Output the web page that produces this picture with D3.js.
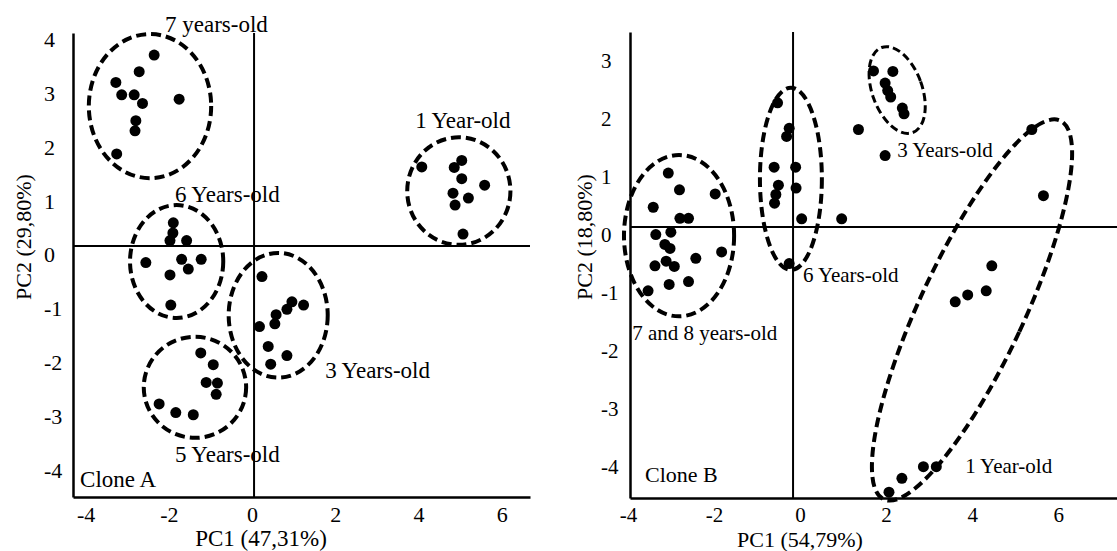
<!DOCTYPE html>
<html>
<head>
<meta charset="utf-8">
<script src="https://cdn.jsdelivr.net/npm/d3@7"></script>
<style>
  body { margin: 0; background: #fff; }
  svg { font-family: "Liberation Serif", "DejaVu Serif", serif; }
</style>
</head>
<body>
<svg id="chart" width="1117" height="551"></svg>
<script>
// tick labels
var xTicks = [-4, -2, 0, 2, 4, 6]
var yTicksA = [-4, -3, -2, -1, 0, 1, 2, 3, 4]
var yTicksB = [-4, -3, -2, -1, 0, 1, 2, 3]

// Clone A scores, [PC1, PC2]
var a7Years = [[-2.40,3.55],[-2.76,3.24],[-3.32,3.04],[-3.18,2.81],[-2.88,2.81],
               [-2.68,2.65],[-1.80,2.73],[-2.84,2.33],[-2.86,2.14],[-3.30,1.71]]
var a6Years = [[-1.94,0.43],[-1.95,0.24],[-2.02,0.10],[-1.62,0.10],[-2.60,-0.31],
               [-1.74,-0.25],[-1.27,-0.25],[-1.58,-0.43],[-2.02,-0.54],[-2.00,-1.10]]
var a5Years = [[-1.28,-1.99],[-0.98,-2.21],[-1.15,-2.54],[-0.88,-2.55],[-0.91,-2.76],
               [-2.28,-2.94],[-1.88,-3.10],[-1.46,-3.14]]
var a3Years = [[0.19,-0.57],[0.91,-1.04],[1.19,-1.10],[0.79,-1.18],[0.53,-1.28],
               [0.13,-1.50],[0.50,-1.45],[0.34,-1.87],[0.79,-2.04],[0.40,-2.20]]
var a1Year = [[4.03,1.47],[4.99,1.59],[4.81,1.46],[4.99,1.25],[5.54,1.13],
              [4.78,0.98],[5.15,0.89],[4.83,0.76],[5.02,0.22]]

// Clone B scores, [PC1, PC2]
var b78Years = [[-2.90,0.93],[-2.64,0.64],[-1.81,0.57],[-3.25,0.34],[-2.63,0.15],
                [-2.43,0.15],[-3.19,-0.13],[-2.84,-0.09],[-1.66,-0.43],[-2.98,-0.30],
                [-2.86,-0.37],[-2.26,-0.54],[-3.21,-0.67],[-2.95,-0.59],[-2.76,-0.68],
                [-3.37,-1.10],[-2.88,-0.99],[-2.43,-0.94]]
var b6Years = [[-0.36,2.14],[-0.09,1.70],[-0.15,1.56],[-0.44,1.03],[0.06,1.03],
               [-0.34,0.72],[-0.40,0.56],[-0.43,0.41],[0.07,0.67],[0.20,0.14],
               [-0.09,-0.63]]
var b3Years = [[1.87,2.69],[2.32,2.68],[2.14,2.48],[2.20,2.35],[2.27,2.24],
               [2.54,2.05],[2.58,1.95],[1.13,0.14],[1.52,1.68],[2.14,1.23]]
var b1Year = [[5.55,1.68],[5.82,0.54],[4.62,-0.67],[4.49,-1.10],[4.06,-1.17],
              [3.77,-1.29],[3.33,-4.13],[3.03,-4.13],[2.53,-4.33],[2.23,-4.57]]

var svg = d3.select("#chart")

var panels = [
  {
    left: 73, right: 530, top: 33, bottom: 497,
    xDomain: [-4.35, 6.63], yDomain: [-4.67, 3.96],
    yTicks: yTicksA, tickFont: 22, textFont: 23, titleFont: 23, cloneFont: 23,
    xLabelShift: -2, yLabelX: 44, yLabelShift: 9,
    xTitle: "PC1 (47,31%)", xTitlePos: [261, 546],
    yTitle: "PC2 (29,80%)", yTitlePos: [31, 237],
    clone: "Clone A", clonePos: [-4.18, -4.48],
    groups: [
      {pts: a7Years, label: "7 years-old", at: [-2.14, 3.98], ell: [-2.50, 2.60, 1.47, 1.34, 0]},
      {pts: a6Years, label: "6 Years-old", at: [-1.90, 0.82], ell: [-1.86, -0.29, 1.12, 1.05, 0]},
      {pts: a5Years, label: "5 Years-old", at: [-1.90, -4.01], ell: [-1.42, -2.63, 1.23, 0.94, 0]},
      {pts: a3Years, label: "3 Years-old", at: [1.71, -2.45], ell: [0.58, -1.29, 1.19, 1.16, 0]},
      {pts: a1Year, label: "1 Year-old", at: [3.87, 2.19], ell: [4.92, 1.02, 1.24, 1.00, 0]}
    ]
  },
  {
    left: 630, right: 1117, top: 32, bottom: 498,
    xDomain: [-3.79, 7.53], yDomain: [-4.67, 3.36],
    yTicks: yTicksB, tickFont: 21, textFont: 21, titleFont: 22, cloneFont: 22,
    xLabelShift: 7, yLabelX: 601, yLabelShift: 8,
    xTitle: "PC1 (54,79%)", xTitlePos: [800, 547],
    yTitle: "PC2 (18,80%)", yTitlePos: [592, 237],
    clone: "Clone B", clonePos: [-3.44, -4.40],
    groups: [
      {pts: b78Years, label: "7 and 8 years-old", at: [-3.74, -1.95], ell: [-2.65, -0.15, 1.28, 1.39, 0]},
      {pts: b6Years, label: "6 Years-old", at: [0.23, -0.95], ell: [-0.05, 0.83, 0.72, 1.57, 0]},
      {pts: b3Years, label: "3 Years-old", at: [2.42, 1.21], ell: [2.42, 2.36, 0.58, 0.78, -20], thin: true},
      {pts: b1Year, label: "1 Year-old", at: [4.00, -4.24], ell: [4.16, -1.43, 1.21, 3.60, 25]}
    ]
  }
]

function drawPanel(p) {
  var x = d3.scaleLinear().domain(p.xDomain).range([p.left, p.right])
  var y = d3.scaleLinear().domain(p.yDomain).range([p.bottom, p.top])
  var g = svg.append("g")

  // lines through the origin
  g.append("line")
    .attr("x1", x(0)).attr("x2", x(0))
    .attr("y1", p.top).attr("y2", p.bottom)
    .attr("stroke", "#000").attr("stroke-width", 2)
  g.append("line")
    .attr("x1", p.left).attr("x2", p.right)
    .attr("y1", y(0)).attr("y2", y(0))
    .attr("stroke", "#000").attr("stroke-width", 2)

  // axes, no tick marks, plain hyphen for minus
  var fmt = function(d){ return String(d) }
  var gx = g.append("g")
    .attr("transform", "translate(0," + p.bottom + ")")
    .call(d3.axisBottom(x).tickValues(xTicks).tickFormat(fmt).tickSize(0).tickSizeOuter(0).tickPadding(9))
  var gy = g.append("g")
    .attr("transform", "translate(" + p.left + ",0)")
    .call(d3.axisLeft(y).tickValues(p.yTicks).tickFormat(fmt).tickSize(0).tickSizeOuter(0))

  gx.attr("font-family", "Liberation Serif").attr("font-size", p.tickFont)
  gy.attr("font-family", "Liberation Serif").attr("font-size", p.tickFont)
  g.selectAll(".domain").attr("stroke", "#000").attr("stroke-width", 2.5)
  gx.selectAll("text")
    .attr("fill", "#000")
    .attr("dx", p.xLabelShift)
  gy.selectAll("text")
    .attr("fill", "#000")
    .attr("text-anchor", "start")
    .attr("x", p.yLabelX - p.left)
    .attr("dy", p.yLabelShift + 0.32 * p.tickFont)
  g.selectAll(".tick line").remove()

  // dashed ellipses round each age group
  g.selectAll("ellipse")
    .data(p.groups)
    .enter()
    .append("ellipse")
      .attr("cx", function(d){ return x(d.ell[0]) })
      .attr("cy", function(d){ return y(d.ell[1]) })
      .attr("rx", function(d){ return x(d.ell[2]) - x(0) })
      .attr("ry", function(d){ return y(0) - y(d.ell[3]) })
      .attr("transform", function(d){ return "rotate(" + d.ell[4] + "," + x(d.ell[0]) + "," + y(d.ell[1]) + ")" })
      .attr("fill", "none")
      .attr("stroke", "#000")
      .attr("stroke-width", function(d){ return d.thin ? 3 : 4 })
      .attr("stroke-dasharray", function(d){ return d.thin ? "8,4" : "10,5" })

  // points
  p.groups.forEach(function(grp) {
    g.selectAll(null)
      .data(grp.pts)
      .enter()
      .append("circle")
        .attr("cx", function(d){ return x(d[0]) })
        .attr("cy", function(d){ return y(d[1]) })
        .attr("r", 5.5)
        .attr("fill", "#000")
  })

  // group names
  g.selectAll(null)
    .data(p.groups)
    .enter()
    .append("text")
      .attr("x", function(d){ return x(d.at[0]) })
      .attr("y", function(d){ return y(d.at[1]) })
      .attr("font-size", p.textFont)
      .text(function(d){ return d.label })

  g.append("text")
    .attr("x", x(p.clonePos[0]))
    .attr("y", y(p.clonePos[1]))
    .attr("font-size", p.cloneFont)
    .text(p.clone)

  // axis titles
  g.append("text")
    .attr("x", p.xTitlePos[0]).attr("y", p.xTitlePos[1])
    .attr("text-anchor", "middle")
    .attr("font-size", p.titleFont)
    .text(p.xTitle)
  g.append("text")
    .attr("transform", "translate(" + p.yTitlePos[0] + "," + p.yTitlePos[1] + ") rotate(-90)")
    .attr("text-anchor", "middle")
    .attr("font-size", 22)
    .text(p.yTitle)
}

panels.forEach(drawPanel)
</script>
</body>
</html>
